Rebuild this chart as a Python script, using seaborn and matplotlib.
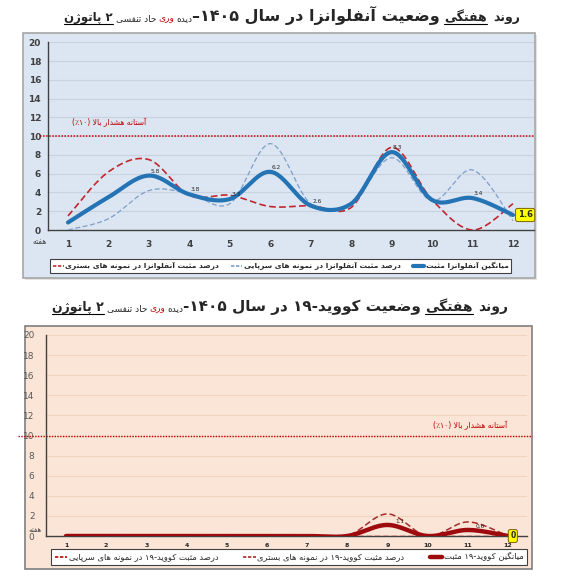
import numpy as np
import pandas as pd
import matplotlib
matplotlib.use("Agg")
import matplotlib.pyplot as plt
from matplotlib.lines import Line2D
from matplotlib.patches import Rectangle
import seaborn as sns

# ---------------- data ----------------
weeks = list(range(1, 13))
week_labels = [str(w) for w in weeks]
y_ticks = list(range(0, 21, 2))
threshold = 10

flu_mean = [0.8, 3.5, 5.8, 3.8, 3.3, 6.2, 2.6, 2.8, 8.3, 3.2, 3.4, 1.6]
flu_outpatient = [0.0, 1.2, 4.2, 3.9, 2.8, 9.2, 2.8, 2.8, 7.7, 3.1, 6.4, 1.0]
flu_inpatient = [1.5, 6.2, 7.5, 3.7, 3.7, 2.5, 2.6, 2.4, 8.8, 3.2, 0.0, 2.8]

covid_mean = [0, 0, 0, 0, 0, 0, 0, 0, 1.1, 0, 0.6, 0]
covid_inpatient = [0, 0, 0, 0, 0, 0, 0, 0, 2.2, 0, 1.4, 0]
covid_outpatient = [0, 0, 0, 0, 0, 0, 0, 0, 0, 0, 0, 0]

flu_label_weeks = [3, 4, 5, 6, 7, 9, 11]
covid_label_weeks = [9, 11]

txt_week = "هفته"
txt_threshold = "آستانه هشدار بالا (۱۰٪)"
flu_legend = ["درصد مثبت آنفلوانزا در نمونه های بستری",
              "درصد مثبت آنفلوانزا در نمونه های سرپایی",
              "میانگین آنفلوانزا مثبت"]
covid_legend = ["درصد مثبت کووید-۱۹ در نمونه های سرپایی",
                "درصد مثبت کووید-۱۹ در نمونه های بستری",
                "میانگین کووید-۱۹ مثبت"]

# ---------------- minimal Persian shaping / visual ordering ----------------
F = {
 'ا': ('\uFE8D', '\uFE8E', None, None), 'آ': ('\uFE81', '\uFE82', None, None),
 'ب': ('\uFE8F', '\uFE90', '\uFE91', '\uFE92'), 'پ': ('\uFB56', '\uFB57', '\uFB58', '\uFB59'),
 'ت': ('\uFE95', '\uFE96', '\uFE97', '\uFE98'), 'ث': ('\uFE99', '\uFE9A', '\uFE9B', '\uFE9C'),
 'ج': ('\uFE9D', '\uFE9E', '\uFE9F', '\uFEA0'), 'چ': ('\uFB7A', '\uFB7B', '\uFB7C', '\uFB7D'),
 'ح': ('\uFEA1', '\uFEA2', '\uFEA3', '\uFEA4'), 'خ': ('\uFEA5', '\uFEA6', '\uFEA7', '\uFEA8'),
 'د': ('\uFEA9', '\uFEAA', None, None), 'ذ': ('\uFEAB', '\uFEAC', None, None),
 'ر': ('\uFEAD', '\uFEAE', None, None), 'ز': ('\uFEAF', '\uFEB0', None, None),
 'ژ': ('\uFB8A', '\uFB8B', None, None),
 'س': ('\uFEB1', '\uFEB2', '\uFEB3', '\uFEB4'), 'ش': ('\uFEB5', '\uFEB6', '\uFEB7', '\uFEB8'),
 'ص': ('\uFEB9', '\uFEBA', '\uFEBB', '\uFEBC'), 'ض': ('\uFEBD', '\uFEBE', '\uFEBF', '\uFEC0'),
 'ط': ('\uFEC1', '\uFEC2', '\uFEC3', '\uFEC4'), 'ظ': ('\uFEC5', '\uFEC6', '\uFEC7', '\uFEC8'),
 'ع': ('\uFEC9', '\uFECA', '\uFECB', '\uFECC'), 'غ': ('\uFECD', '\uFECE', '\uFECF', '\uFED0'),
 'ف': ('\uFED1', '\uFED2', '\uFED3', '\uFED4'), 'ق': ('\uFED5', '\uFED6', '\uFED7', '\uFED8'),
 'ک': ('\uFB8E', '\uFB8F', '\uFB90', '\uFB91'), 'گ': ('\uFB92', '\uFB93', '\uFB94', '\uFB95'),
 'ل': ('\uFEDD', '\uFEDE', '\uFEDF', '\uFEE0'), 'م': ('\uFEE1', '\uFEE2', '\uFEE3', '\uFEE4'),
 'ن': ('\uFEE5', '\uFEE6', '\uFEE7', '\uFEE8'), 'و': ('\uFEED', '\uFEEE', None, None),
 'ه': ('\uFEE9', '\uFEEA', '\uFEEB', '\uFEEC'), 'ی': ('\uFBFC', '\uFBFD', '\uFBFE', '\uFBFF'),
}


def _joins_next(c):
    return c in F and F[c][2] is not None


def ar(s):
    out = []
    i, n = 0, len(s)
    while i < n:
        c = s[i]
        if c not in F:
            out.append(c)
            i += 1
            continue
        prev = s[i - 1] if i > 0 else ''
        cp = _joins_next(prev)
        nxt = s[i + 1] if i + 1 < n else ''
        if c == 'ل' and nxt in ('ا', 'آ'):
            lig = {'ا': ('\uFEFB', '\uFEFC'), 'آ': ('\uFEF5', '\uFEF6')}[nxt]
            out.append(lig[1] if cp else lig[0])
            i += 2
            continue
        cn = nxt in F and _joins_next(c)
        iso, fin, ini, med = F[c]
        out.append(med if (cp and cn) else fin if cp else ini if cn else iso)
        i += 1
    vis = ''.join(reversed(out))
    vis = vis.translate(str.maketrans('()', ')('))
    res, run = [], []
    ltr = set('0123456789.۰۱۲۳۴۵۶۷۸۹')
    for ch in vis:
        if ch in ltr:
            run.append(ch)
        else:
            res.extend(reversed(run))
            run = []
            res.append(ch)
    res.extend(reversed(run))
    return ''.join(res)


def smooth(xs, ys, n=40):
    x = np.asarray(xs, float)
    y = np.asarray(ys, float)
    P = np.column_stack([x, y])
    segs = []
    m = len(P)
    for i in range(m - 1):
        p0 = P[i - 1] if i > 0 else P[i]
        p1, p2 = P[i], P[i + 1]
        p3 = P[i + 2] if i + 2 < m else P[i + 1]
        c1 = p1 + (p2 - p0) / 6
        c2 = p2 - (p3 - p1) / 6
        t = np.linspace(0, 1, n, endpoint=(i == m - 2))[:, None]
        b = (1 - t) ** 3 * p1 + 3 * (1 - t) ** 2 * t * c1 + 3 * (1 - t) * t ** 2 * c2 + t ** 3 * p2
        segs.append(b)
    B = np.vstack(segs)
    return pd.DataFrame({"week": B[:, 0], "value": B[:, 1]})


# ---------------- figure ----------------
sns.set_style("white")
plt.rcParams['font.family'] = ['DejaVu Sans']
W, H = 571, 577
fig = plt.figure(figsize=(W / 100, H / 100), dpi=100)
fig.patch.set_facecolor('white')


def fx(px):
    return px / W


def fy(py):
    return 1 - py / H


def panel(frame, axbox, bg, edge, gridc, xlim, shadow=False):
    (x0, y0, x1, y1) = frame
    if shadow:
        fig.add_artist(Rectangle((fx(x0 + 2), fy(y1 + 2)), fx(x1 - x0), (y1 - y0) / H,
                                 transform=fig.transFigure, facecolor='#e3e3e3',
                                 edgecolor='none', zorder=-6))
    fig.add_artist(Rectangle((fx(x0), fy(y1)), fx(x1 - x0), (y1 - y0) / H,
                             transform=fig.transFigure, facecolor=bg,
                             edgecolor=edge, lw=1.2, zorder=-5))
    (ax0, ay0, ax1, ay1) = axbox
    ax = fig.add_axes([fx(ax0), fy(ay1), fx(ax1 - ax0), (ay1 - ay0) / H])
    ax.set_facecolor('none')
    ax.set_xlim(*xlim)
    ax.set_ylim(0, 20)
    ax.set_yticks(y_ticks)
    ax.set_xticks(weeks)
    ax.set_xticklabels(week_labels)
    for yv in y_ticks[1:]:
        ax.axhline(yv, color=gridc, lw=0.8, zorder=0)
    for s in ['top', 'right']:
        ax.spines[s].set_visible(False)
    for s in ['left', 'bottom']:
        ax.spines[s].set_color('#404040')
        ax.spines[s].set_linewidth(1.0)
    ax.tick_params(length=0)
    return ax


def draw(ax, xs, ys, color, lw, ls, z):
    d = smooth(xs, ys)
    sns.lineplot(data=d, x="week", y="value", ax=ax, color=color, lw=lw,
                 linestyle=ls, sort=False, estimator=None, zorder=z,
                 solid_capstyle='round', legend=False)
    ax.set_xlabel('')
    ax.set_ylabel('')


def rich_title(pieces, cx, base_y):
    r = fig.canvas.get_renderer()
    objs = []
    total = 0
    for txt, kw, ul, gap in pieces:
        t = fig.text(0, 0, ar(txt), ha='right', va='baseline', **kw)
        w = t.get_window_extent(r).width
        objs.append((t, ul, w, gap))
        total += w + gap
    xr = cx + total / 2
    for t, ul, w, gap in objs:
        t.set_position((fx(xr), fy(base_y)))
        if ul:
            fig.add_artist(Line2D([fx(xr - w), fx(xr)], [fy(base_y + 3)] * 2,
                                  color='black', lw=0.8, transform=fig.transFigure))
        xr -= w + gap


# ====== Top panel: influenza ======
BLUE = '#2473b4'
LBLUE = '#7d9fc8'
RED = '#c0272d'
ax1 = panel((23, 33, 535, 278), (48, 42.3, 534, 230), '#dce6f2', '#a6a6a6', '#c9d3df',
            (1 - 20 / 40.45, 12 + 21 / 40.45), shadow=True)
ax1.tick_params(axis='both', labelsize=6.5, labelcolor='#404040')
for lab in ax1.get_xticklabels() + ax1.get_yticklabels():
    lab.set_fontweight('bold')
ax1.tick_params(axis='x', pad=7)
ax1.tick_params(axis='y', pad=5)

ax1.plot([0.3, 12.55], [threshold, threshold], color='#c00000', lw=1.1,
         linestyle=(0, (1, 1)), clip_on=False, zorder=1)
ax1.text(1.1, 11.5, ar(txt_threshold), color='#c00000', fontsize=5.5, ha='left', va='center')

draw(ax1, weeks, flu_inpatient, RED, 1.2, (0, (4, 2)), 3)
draw(ax1, weeks, flu_outpatient, LBLUE, 0.9, (0, (4, 2)), 3)
draw(ax1, weeks, flu_mean, BLUE, 3.0, '-', 4)

for w in flu_label_weeks:
    v = flu_mean[w - 1]
    ax1.text(w + 0.15, v + 0.2, f"{v:.1f}", fontsize=4.2, color='#262626',
             ha='center', va='bottom', zorder=6)
ax1.text(12.3, flu_mean[-1], f"{flu_mean[-1]:.1f}", fontsize=6, fontweight='bold',
         color='#262626', ha='center', va='center', zorder=7,
         bbox=dict(boxstyle='round,pad=0.25', fc='#ffff00', ec='#7f6000', lw=0.7))
fig.text(fx(40), fy(242), ar(txt_week), fontsize=5.5, color='#404040',
         ha='center', va='center')

h1 = [Line2D([], [], color=RED, lw=1.2, ls=(0, (2, 1))),
      Line2D([], [], color=LBLUE, lw=1.2, ls=(0, (2, 1))),
      Line2D([], [], color=BLUE, lw=3.0)]
leg1 = fig.legend(h1, [ar(s) for s in flu_legend], loc='center',
                  bbox_to_anchor=(fx(280.5), fy(266)), ncol=3, frameon=True,
                  fancybox=False, edgecolor='#404040', facecolor='white', framealpha=1,
                  prop={'size': 5.4, 'weight': 'bold'}, handlelength=1.5,
                  handletextpad=0.2, columnspacing=1.6, borderpad=0.4)
leg1.get_frame().set_linewidth(0.8)

rich_title([
    ("روند", dict(fontsize=9, fontweight='bold'), False, 6),
    ("هفتگی", dict(fontsize=9, fontweight='bold'), True, 4),
    ("وضعیت آنفلوانزا در سال ۱۴۰۵–", dict(fontsize=11.5, fontweight='bold'), False, 0),
    ("دیده", dict(fontsize=6.5), False, 2),
    ("وری", dict(fontsize=6.5, color='#c00000'), False, 2),
    ("حاد تنفسی", dict(fontsize=6.5), False, 3),
    ("۲ پاتوژن", dict(fontsize=8.5, fontweight='bold'), True, 0),
], 292, 21)

# ====== Bottom panel: COVID-19 ======
DRED = '#9e0b0f'
DRED2 = '#a52a2a'
ax2 = panel((25, 326, 532, 569), (45.6, 335, 527, 536), '#fbe5d6', '#7f7f7f', '#f2d3c0',
            (1 - 20.4 / 40.18, 12 + 19 / 40.18))
ax2.tick_params(axis='y', labelsize=6.5, labelcolor='#595959', pad=8)
ax2.tick_params(axis='x', labelsize=4.5, labelcolor='#262626', pad=5)
for lab in ax2.get_xticklabels():
    lab.set_fontweight('bold')

ax2.plot([-0.2, 12.6], [threshold, threshold], color='#c00000', lw=1.0,
         linestyle=(0, (1, 1)), clip_on=False, zorder=1)
ax2.text(11.05, 11.0, ar(txt_threshold), color='#c00000', fontsize=5.5, ha='center', va='center')

draw(ax2, weeks, covid_outpatient, '#c00000', 1.0, (0, (4, 2)), 3)
draw(ax2, weeks, covid_inpatient, DRED2, 1.1, (0, (4, 2)), 3)
draw(ax2, weeks, covid_mean, DRED, 3.2, '-', 4)

for w in covid_label_weeks:
    v = covid_mean[w - 1]
    ax2.text(w + 0.3, v + 0.1, f"{v:.1f}", fontsize=4.2, color='#262626',
             ha='center', va='bottom', zorder=6)
ax2.text(12.12, covid_mean[-1], f"{covid_mean[-1]:.0f}", fontsize=5.5, fontweight='bold',
         color='#262626', ha='center', va='center', zorder=7, clip_on=False,
         bbox=dict(boxstyle='round,pad=0.25', fc='#ffff00', ec='#7f6000', lw=0.7))
fig.text(fx(35), fy(530), ar(txt_week), fontsize=5, color='#404040',
         ha='center', va='center')

h2 = [Line2D([], [], color='#c00000', lw=1.2, ls=(0, (2, 1))),
      Line2D([], [], color=DRED2, lw=1.2, ls=(0, (2, 1))),
      Line2D([], [], color=DRED, lw=3.2)]
leg2 = fig.legend(h2, [ar(s) for s in covid_legend], loc='center',
                  bbox_to_anchor=(fx(289), fy(557)), ncol=3, frameon=True,
                  fancybox=False, edgecolor='#404040', facecolor='white', framealpha=1,
                  prop={'size': 6}, handlelength=1.5,
                  handletextpad=0.2, columnspacing=3.0, borderpad=0.4)
leg2.get_frame().set_linewidth(0.8)

rich_title([
    ("روند", dict(fontsize=10, fontweight='bold'), False, 5),
    ("هفتگی", dict(fontsize=10, fontweight='bold'), True, 4),
    ("وضعیت کووید-۱۹ در سال ۱۴۰۵-", dict(fontsize=11, fontweight='bold'), False, 0),
    ("دیده", dict(fontsize=6.5), False, 2),
    ("وری", dict(fontsize=6.5, color='#c00000'), False, 2),
    ("حاد تنفسی", dict(fontsize=6.5), False, 3),
    ("۲ پاتوژن", dict(fontsize=9, fontweight='bold'), True, 0),
], 280, 311)

fig.savefig("out.png", dpi=100)
